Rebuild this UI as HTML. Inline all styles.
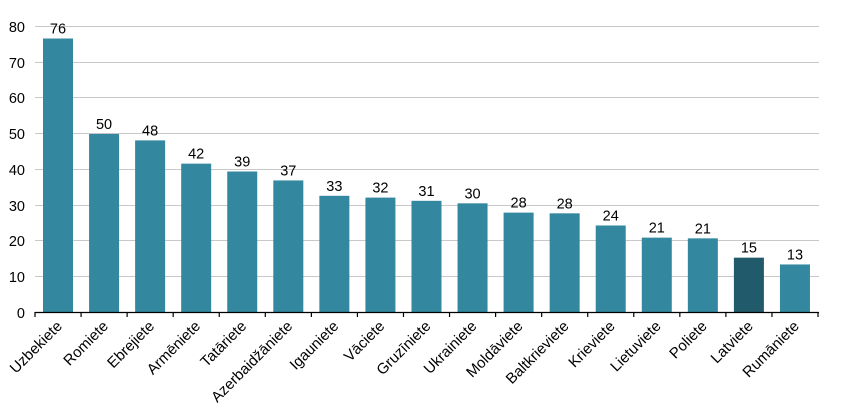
<!DOCTYPE html>
<html><head><meta charset="utf-8"><style>body{margin:0;background:#fff}svg{display:block}text{font-family:"Liberation Sans",Arial,sans-serif;fill:#000}</style></head>
<body>
<svg width="849" height="417" viewBox="0 0 849 417" xmlns="http://www.w3.org/2000/svg">
<g stroke="#c8c8c8" stroke-width="1">
<line x1="35" x2="819" y1="26.5" y2="26.5"/><line x1="35" x2="819" y1="62.5" y2="62.5"/><line x1="35" x2="819" y1="97.5" y2="97.5"/><line x1="35" x2="819" y1="133.5" y2="133.5"/><line x1="35" x2="819" y1="169.5" y2="169.5"/><line x1="35" x2="819" y1="205.5" y2="205.5"/><line x1="35" x2="819" y1="240.5" y2="240.5"/><line x1="35" x2="819" y1="276.5" y2="276.5"/>
</g>
<g font-size="14.5" text-anchor="end">
<text x="25" y="32">80</text><text x="25" y="68">70</text><text x="25" y="103">60</text><text x="25" y="139">50</text><text x="25" y="175">40</text><text x="25" y="211">30</text><text x="25" y="246">20</text><text x="25" y="282">10</text><text x="25" y="318">0</text>
</g>
<g id="bars"></g>
<line x1="35" x2="819" y1="312.5" y2="312.5" stroke="#000" stroke-width="1.2"/>
<script>
var d=[["Uzbekiete",76.5,"76"],["Romiete",49.8,"50"],["Ebrejiete",48,"48"],["Armēniete",41.5,"42"],["Tatāriete",39.3,"39"],["Azerbaidžāniete",36.8,"37"],["Igauniete",32.5,"33"],["Vāciete",32,"32"],["Gruzīniete",31.1,"31"],["Ukrainiete",30.4,"30"],["Moldāviete",27.8,"28"],["Baltkrieviete",27.6,"28"],["Krieviete",24.2,"24"],["Lietuviete",20.8,"21"],["Poliete",20.6,"21"],["Latviete",15.2,"15"],["Rumāniete",13.3,"13"]];
var ns="http://www.w3.org/2000/svg",s=document.querySelector("svg"),b=document.getElementById("bars");
function el(t,a,p,tx){var e=document.createElementNS(ns,t);for(var k in a)e.setAttribute(k,a[k]);if(tx)e.textContent=tx;(p||s).appendChild(e);return e;}
for(var i=0;i<=17;i++){var x=35+i*46.06;el("line",{x1:x,x2:x,y1:312,y2:317,stroke:"#000","stroke-width":1.2});}
d.forEach(function(r,i){var c=58+i*46.06,h=r[1]*3.575,y=312-h;
el("rect",{x:c-15,y:y,width:30,height:h,fill:i==15?"#215a6a":"#33879e"},b);
el("text",{x:c,y:y-5,"font-size":14.5,"text-anchor":"middle"},s,r[2]);
el("text",{x:0,y:0,"font-size":15,"text-anchor":"end",transform:"translate("+(c+5)+",327) rotate(-45)"},s,r[0]);
});
</script>
</svg>
</body></html>
